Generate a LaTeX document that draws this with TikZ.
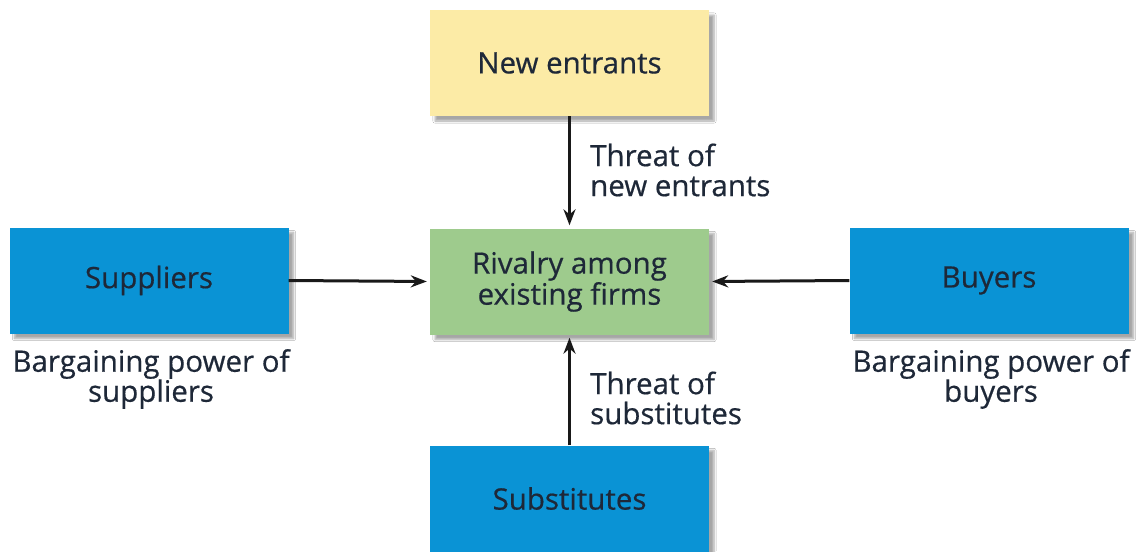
\documentclass[tikz,border=0pt]{standalone}
\usepackage{fontspec}
\setmainfont{Open Sans}[FakeBold=0.5]
\usetikzlibrary{arrows.meta,shadows.blur}
\definecolor{entrantfill}{HTML}{FCEBA6}
\definecolor{rivalfill}{HTML}{9ECB8D}
\definecolor{forcefill}{HTML}{0A93D5}
\definecolor{inktext}{HTML}{1E2838}
\tikzset{
  force/.style={minimum width=279pt, minimum height=106pt, inner sep=0pt,
    align=center, font=\fontsize{29.5}{31}\selectfont, text=inktext,
    blur shadow={shadow xshift=5pt, shadow yshift=-5pt, shadow blur steps=6, shadow opacity=35}},
  push/.style={line width=3pt, -{Stealth[length=16pt,width=12pt]}, draw=black!90, shorten >=3pt},
  caption/.style={font=\fontsize{29.5}{30}\selectfont, text=inktext, inner sep=0pt}
}
\begin{document}
\begin{tikzpicture}[x=1pt,y=-1pt]
  \useasboundingbox (0,0) rectangle (1142,551);
  \fill[white] (0,0) rectangle (1142,551);
  \node[force, fill=entrantfill] (entrants) at (569.5,63) {New entrants};
  \node[force, fill=rivalfill] (rivalry) at (569.5,281.5) {Rivalry among\\existing firms};
  \node[force, fill=forcefill] (suppliers) at (149,280.5) {Suppliers};
  \node[force, fill=forcefill] (buyers) at (989,280.5) {Buyers};
  \node[force, fill=forcefill] (substitutes) at (569.5,498.5) {Substitutes};

  \draw[push] (entrants.south) -- (rivalry.north);
  \draw[push] (substitutes.north) -- (rivalry.south);
  \draw[push] (suppliers.east) -- (rivalry.west);
  \draw[push] (buyers.west) -- (rivalry.east);

  \node[caption, align=left, anchor=west] (tne) at (590,170) {Threat of\\new entrants};
  \node[caption, align=left, anchor=west] (tsub) at (590,398) {Threat of\\substitutes};
  \node[caption, align=center] (bps) at (151,379) {Bargaining power of\\suppliers};
  \node[caption, align=center] (bpb) at (991,379) {Bargaining power of\\buyers};
\end{tikzpicture}
\end{document}
